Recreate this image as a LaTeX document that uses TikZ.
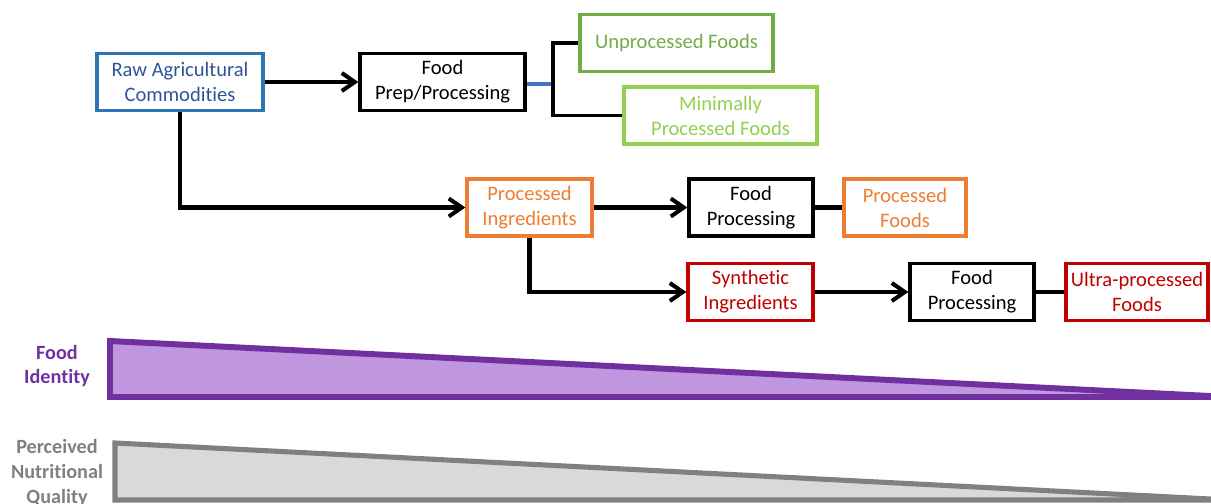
\documentclass[tikz,border=0pt]{standalone}
\usepackage{fontspec}
\setmainfont{Carlito}[Ligatures=NoCommon]
\usepackage{tikz}
\usetikzlibrary{arrows.meta,positioning}
\definecolor{RawBlue}{RGB}{46,117,182}
\definecolor{RawText}{RGB}{47,85,151}
\definecolor{LinkBlue}{RGB}{68,114,196}
\definecolor{UnpGreen}{RGB}{112,173,71}
\definecolor{MinGreen}{RGB}{146,208,80}
\definecolor{ProcOrange}{RGB}{237,125,49}
\definecolor{UltraRed}{RGB}{192,0,0}
\definecolor{IdPurple}{RGB}{112,48,160}
\definecolor{IdFill}{RGB}{192,150,222}
\definecolor{QualGray}{RGB}{128,128,128}
\definecolor{QualFill}{RGB}{217,217,217}

\begin{document}
\begin{tikzpicture}[x=0.02cm,y=-0.02cm,
    box/.style={draw,line width=1.9pt,minimum height=1.14cm,inner sep=2pt,
                align=center,font=\fontsize{11.7}{14.2}\selectfont},
    arrow/.style={-{Straight Barb[length=2.6mm,width=3.6mm]},line width=2.3pt},
    link/.style={line width=2.3pt},
    sidelabel/.style={align=center,font=\fontsize{11.5}{14.2}\selectfont\bfseries}]

    \useasboundingbox (0,0) rectangle (1211,504);

    % top row
    \node[box,draw=RawBlue,text=RawText,minimum width=3.32cm] (raw) at (180,82)
          {Raw Agricultural\\Commodities};
    \node[box,minimum width=3.3cm] (prep) at (442.5,82) {Food\\Prep/Processing};
    \node[box,draw=UnpGreen,text=UnpGreen,minimum width=3.86cm] (unp) at (676.5,43)
          {Unprocessed Foods};
    \node[box,draw=MinGreen,text=MinGreen,minimum width=3.86cm] (minp) at (720.5,115.5)
          {Minimally\\Processed Foods};

    % middle row
    \node[box,draw=ProcOrange,text=ProcOrange,minimum width=2.5cm] (ping) at (529.5,207.5)
          {Processed\\Ingredients};
    \node[box,minimum width=2.48cm] (fp1) at (751,207.5) {Food\\Processing};
    \node[box,draw=ProcOrange,text=ProcOrange,minimum width=2.44cm] (pfood) at (905,207.5)
          {Processed\\Foods};

    % bottom row
    \node[box,draw=UltraRed,text=UltraRed,minimum width=2.5cm] (syn) at (750.5,292)
          {Synthetic\\Ingredients};
    \node[box,minimum width=2.48cm] (fp2) at (972,292) {Food\\Processing};
    \node[box,draw=UltraRed,text=UltraRed,minimum width=2.84cm] (upf) at (1137,292)
          {Ultra-processed\\Foods};

    \foreach \from/\to in {raw/prep, ping/fp1, syn/fp2}
      \draw[arrow] (\from) -- (\to);
    \draw[arrow] (raw.south) |- (ping.west);
    \draw[arrow] (ping.south) |- (syn.west);

    \foreach \from/\to in {fp1/pfood, fp2/upf}
      \draw[link] (\from) -- (\to);

    \coordinate (split) at (553,84);
    \draw[link,LinkBlue,line width=1.8pt] (prep.east |- split) -- (split);
    \draw[link,line width=2pt] (unp.west) -| (split) |- (minp.west);

    % wedges
    \draw[IdPurple,fill=IdFill,line width=3.4pt,line join=miter]
      (110,341) -- (110,397) -- (1230,397) -- cycle;
    \node[sidelabel,text=IdPurple] (ident) at (57,366) {Food\\Identity};

    \draw[QualGray,fill=QualFill,line width=2.9pt,line join=miter]
      (115,443) -- (115,500) -- (1230,500) -- cycle;
    \node[sidelabel,text=QualGray] (qual) at (57,473) {Perceived\\Nutritional\\Quality};
\end{tikzpicture}
\end{document}
